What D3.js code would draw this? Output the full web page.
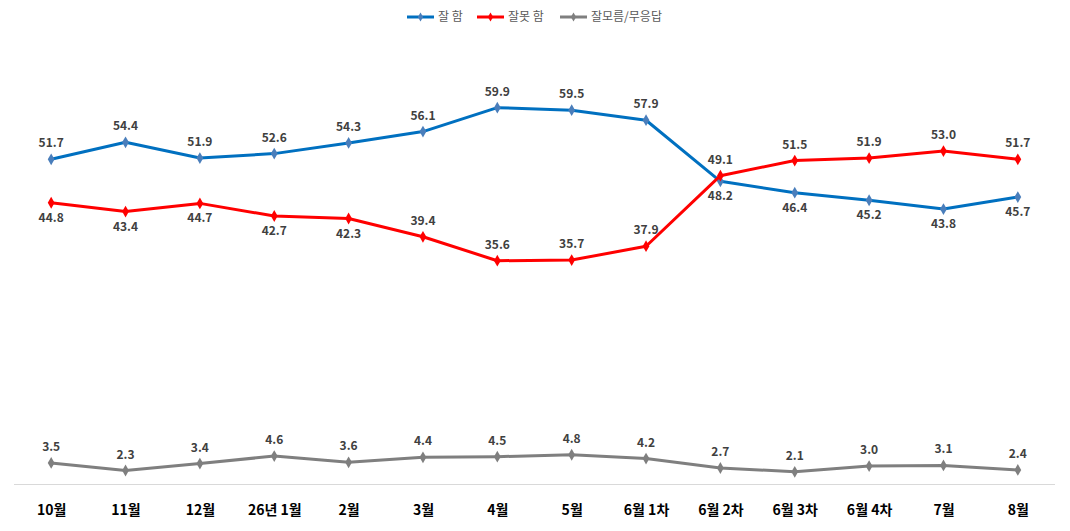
<!DOCTYPE html>
<html>
<head>
<meta charset="utf-8">
<script src="https://cdn.jsdelivr.net/npm/d3@7"></script>
<style>
  body { margin: 0; background: #fff; }
  text { font-family: "Noto Sans CJK KR", "Noto Sans", sans-serif; }
</style>
</head>
<body>
<div id="chart"></div>
<script>
const categories = ["10월", "11월", "12월", "26년 1월", "2월", "3월", "4월", "5월", "6월 1차", "6월 2차", "6월 3차", "6월 4차", "7월", "8월"]
const good = [51.7, 54.4, 51.9, 52.6, 54.3, 56.1, 59.9, 59.5, 57.9, 48.2, 46.4, 45.2, 43.8, 45.7]
const bad = [44.8, 43.4, 44.7, 42.7, 42.3, 39.4, 35.6, 35.7, 37.9, 49.1, 51.5, 51.9, 53.0, 51.7]
const unsure = [3.5, 2.3, 3.4, 4.6, 3.6, 4.4, 4.5, 4.8, 4.2, 2.7, 2.1, 3.0, 3.1, 2.4]
// label above (1) or below (-1) the point
const goodPos = [1, 1, 1, 1, 1, 1, 1, 1, 1, -1, -1, -1, -1, -1]
const badPos = [-1, -1, -1, -1, -1, 1, 1, 1, 1, 1, 1, 1, 1, 1]
const unsurePos = categories.map(() => 1)

const series = [
  { name: "잘 함", values: good, pos: goodPos, color: "#0070C0", marker: "#4A7EBB" },
  { name: "잘못 함", values: bad, pos: badPos, color: "#FF0000", marker: "#FF0000" },
  { name: "잘모름/무응답", values: unsure, pos: unsurePos, color: "#7F7F7F", marker: "#7F7F7F" },
]

const width = 1070, height = 531

const svg = d3.select("#chart")
  .append("svg")
  .attr("width", width)
  .attr("height", height)

const x = d3.scalePoint()
  .domain(categories)
  .range([14, 1055])
  .padding(0.5)

const y = d3.scaleLinear()
  .domain([0, 70])
  .range([485, 44])

// baseline
svg.append("line")
  .attr("x1", 14).attr("x2", 1055)
  .attr("y1", 484.5).attr("y2", 484.5)
  .attr("stroke", "#D9D9D9")
  .attr("stroke-width", 1)

const xAxis = svg.append("g")
  .attr("transform", `translate(0,${y(0)})`)
  .call(d3.axisBottom(x).tickSize(0).tickPadding(20))
xAxis.select(".domain").remove()
xAxis.selectAll("text")
  .attr("font-size", 14)
  .attr("font-weight", "bold")
  .attr("fill", "#000")

const line = d3.line()
  .x((d, i) => x(categories[i]))
  .y(d => y(d))

const diamond = d3.symbol().type(d3.symbolDiamond).size(40)

series.forEach(s => {
  const g = svg.append("g")

  g.append("path")
    .attr("d", line(s.values))
    .attr("fill", "none")
    .attr("stroke", s.color)
    .attr("stroke-width", 3)
    .attr("stroke-linejoin", "round")

  g.selectAll(".marker")
    .data(s.values)
    .enter()
      .append("path")
      .attr("class", "marker")
      .attr("d", diamond)
      .attr("fill", s.marker)
      .attr("transform", (d, i) => `translate(${x(categories[i])},${y(d)})`)

  g.selectAll(".label")
    .data(s.values)
    .enter()
      .append("text")
      .attr("class", "label")
      .attr("x", (d, i) => x(categories[i]))
      .attr("y", (d, i) => y(d) + (s.pos[i] > 0 ? -12 : 19))
      .attr("text-anchor", "middle")
      .attr("font-size", 12)
      .attr("font-weight", "bold")
      .attr("fill", "#404040")
      .text(d => d.toFixed(1))
})

// legend
const legendX = [407, 477, 560]
const legend = svg.append("g")
series.forEach((s, i) => {
  const lg = legend.append("g").attr("transform", `translate(${legendX[i]},17)`)
  lg.append("line")
    .attr("x1", 0).attr("x2", 27)
    .attr("stroke", s.color)
    .attr("stroke-width", 3)
  lg.append("path")
    .attr("d", d3.symbol().type(d3.symbolDiamond).size(24))
    .attr("fill", s.marker)
    .attr("transform", "translate(13.5,0)")
  lg.append("text")
    .attr("x", 31)
    .attr("y", 4)
    .attr("font-size", 12)
    .attr("fill", "#595959")
    .text(s.name)
})
</script>
</body>
</html>
